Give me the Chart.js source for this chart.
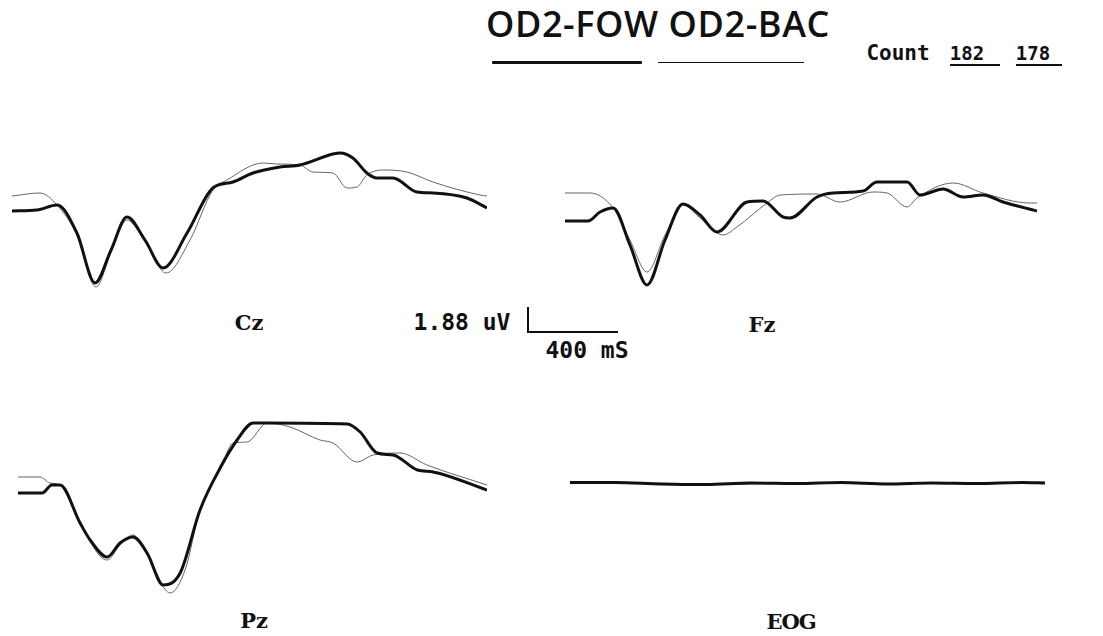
<!DOCTYPE html>
<html>
<head>
<meta charset="utf-8">
<script src="https://cdn.jsdelivr.net/npm/chart.js@4"></script>
<style>
  body { margin: 0; background: #fff; width: 1103px; height: 636px; position: relative; overflow: hidden; }
  canvas { position: absolute; }
  .lbl { position: absolute; color: #111; white-space: nowrap; line-height: 1; transform: translate(-50%, -50%); }
  .chan { font-family: "DejaVu Serif", "Liberation Serif", serif; font-weight: bold; font-size: 21px; }
  .mono { font-family: "DejaVu Sans Mono", "Liberation Mono", monospace; font-weight: bold; font-size: 23px; }
  #titulo { left: 658px; top: 24px; font-family: "Open Sans", "Noto Sans", sans-serif; font-weight: 600; font-size: 36px; letter-spacing: 0.6px; }
  .raya { position: absolute; background: #111; }
</style>
</head>
<body>

<div class="lbl" id="titulo">OD2-FOW OD2-BAC</div>
<div class="raya" style="left:492px; top:61px; width:150px; height:3px; border-radius:1px;"></div>
<div class="raya" style="left:658px; top:62px; width:146px; height:1px;"></div>

<div class="lbl mono" style="left:898px; top:53px; font-size:21px;">Count</div>
<div class="lbl mono" style="left:967px; top:53px; font-size:19px;">182</div>
<div class="lbl mono" style="left:1033px; top:53px; font-size:19px;">178</div>
<div class="raya" style="left:950px; top:64px; width:50px; height:2px;"></div>
<div class="raya" style="left:1016px; top:64px; width:46px; height:2px;"></div>

<div class="lbl chan" style="left:249px; top:322px;">Cz</div>
<div class="lbl chan" style="left:762px; top:324px;">Fz</div>
<div class="lbl chan" style="left:254px; top:620px;">Pz</div>
<div class="lbl chan" style="left:791px; top:621px; letter-spacing:-1px;">EOG</div>

<div class="lbl mono" style="left:462px; top:322px;">1.88 uV</div>
<div class="raya" style="left:527px; top:307px; width:2px; height:26px;"></div>
<div class="raya" style="left:527px; top:331px; width:91px; height:2px;"></div>
<div class="lbl mono" style="left:587px; top:350px;">400 mS</div>

<canvas id="cz" width="475" height="150" style="left:12px; top:146px;"></canvas>
<canvas id="fz" width="472" height="125" style="left:565px; top:171px;"></canvas>
<canvas id="pz" width="469" height="190" style="left:18px; top:413px;"></canvas>
<canvas id="eog" width="475" height="50" style="left:570px; top:458px;"></canvas>

<script>
// tiempos en mS, amplitudes en uV
const czFowT = [0, 110, 199, 287, 367, 438, 508, 588, 668, 774, 888, 977, 1065, 1185, 1273, 1419, 1450, 1507, 1569, 1613, 1684, 1790, 1861, 2011, 2100];
const czFowV = [0, 0.04, 0.24, -0.88, -2.88, -1.56, -0.24, -1.16, -2.28, -0.88, 0.92, 1.16, 1.52, 1.76, 1.84, 2.28, 2.32, 2.12, 1.52, 1.32, 1.32, 0.76, 0.72, 0.52, 0.12];
const czBacT = [0, 124, 199, 287, 371, 438, 508, 597, 681, 787, 888, 950, 1110, 1171, 1273, 1330, 1419, 1481, 1525, 1569, 1640, 1746, 1861, 2069, 2100];
const czBacV = [0.6, 0.72, 0.24, -0.96, -3.04, -1.64, -0.36, -1.36, -2.48, -1.16, 0.84, 1.24, 1.92, 1.88, 1.84, 1.56, 1.52, 0.92, 0.96, 1.44, 1.64, 1.56, 1.16, 0.64, 0.6];

const fzFowT = [0, 102, 156, 214, 289, 365, 445, 525, 601, 676, 810, 881, 970, 1001, 1121, 1193, 1326, 1388, 1522, 1580, 1682, 1771, 1860, 1949, 2100];
const fzFowV = [0, 0, 0.36, 0.52, -0.96, -2.56, -0.76, 0.68, 0.24, -0.44, 0.76, 0.8, 0.16, 0.12, 0.96, 1.12, 1.2, 1.56, 1.56, 1.04, 1.28, 0.96, 1.04, 0.76, 0.4];
const fzBacT = [0, 111, 214, 289, 365, 445, 525, 601, 703, 765, 899, 957, 1121, 1224, 1370, 1433, 1522, 1566, 1727, 1860, 2069, 2100];
const fzBacV = [1.12, 1.12, 0.52, -0.76, -2.04, -0.56, 0.64, 0.12, -0.56, -0.24, 0.72, 1.04, 1.08, 0.76, 1.16, 1.12, 0.56, 0.92, 1.52, 1.12, 0.72, 0.72];

const pzFowT = [0, 108, 152, 188, 278, 323, 399, 457, 515, 578, 650, 726, 815, 905, 981, 1053, 1116, 1474, 1532, 1608, 1680, 1788, 1859, 2100];
const pzFowV = [0, 0, 0.32, 0.32, -1.2, -1.88, -2.56, -2.0, -1.76, -2.4, -3.68, -3.2, -0.68, 1.0, 2.12, 2.8, 2.8, 2.76, 2.44, 1.6, 1.52, 0.92, 0.84, 0.12];
const pzBacT = [0, 99, 143, 188, 278, 399, 457, 515, 591, 681, 748, 815, 905, 963, 1026, 1116, 1218, 1352, 1411, 1518, 1590, 1710, 1831, 2100];
const pzBacV = [0.64, 0.64, 0.4, 0.32, -1.24, -2.68, -2.08, -1.68, -2.68, -4.0, -3.08, -0.68, 0.92, 2.0, 2.04, 2.8, 2.64, 2.12, 2.0, 1.24, 1.52, 1.6, 1.12, 0.32];

const eogFowT = [0, 200, 400, 600, 800, 1000, 1200, 1400, 1600, 1800, 2000, 2100];
const eogFowV = [0.02, 0.02, -0.04, -0.06, 0, -0.02, 0.02, -0.04, 0, -0.02, 0.02, 0];
const eogBacT = [0, 250, 500, 750, 1000, 1250, 1500, 1750, 2100];
const eogBacV = [0.04, 0, -0.02, -0.04, 0.02, 0, -0.02, 0.02, 0.02];

function puntos(tiempos, valores) {
    return tiempos.map((t, i) => ({ x: t, y: valores[i] }));
}

function dibujarPanel(id, fowT, fowV, bacT, bacV, yMin, yMax) {
    const ctx = document.getElementById(id).getContext('2d');
    new Chart(ctx, {
        type: 'line',
        data: {
            datasets: [{
                label: 'OD2-FOW',
                data: puntos(fowT, fowV),
                borderColor: '#111',
                borderWidth: 3,
                pointRadius: 0,
                cubicInterpolationMode: 'monotone',
                clip: false
            }, {
                label: 'OD2-BAC',
                data: puntos(bacT, bacV),
                borderColor: '#666',
                borderWidth: 1,
                pointRadius: 0,
                cubicInterpolationMode: 'monotone',
                clip: false
            }]
        },
        options: {
            responsive: false,
            animation: false,
            layout: { padding: 0 },
            plugins: { legend: { display: false }, tooltip: { enabled: false } },
            scales: {
                x: { type: 'linear', min: 0, max: 2100, display: false },
                y: { min: yMin, max: yMax, display: false }
            }
        }
    });
}

dibujarPanel('cz', czFowT, czFowV, czBacT, czBacV, -3.4, 2.6);
dibujarPanel('fz', fzFowT, fzFowV, fzBacT, fzBacV, -3.0, 2.0);
dibujarPanel('pz', pzFowT, pzFowV, pzBacT, pzBacV, -4.4, 3.2);
dibujarPanel('eog', eogFowT, eogFowV, eogBacT, eogBacV, -1, 1);
</script>
</body>
</html>
